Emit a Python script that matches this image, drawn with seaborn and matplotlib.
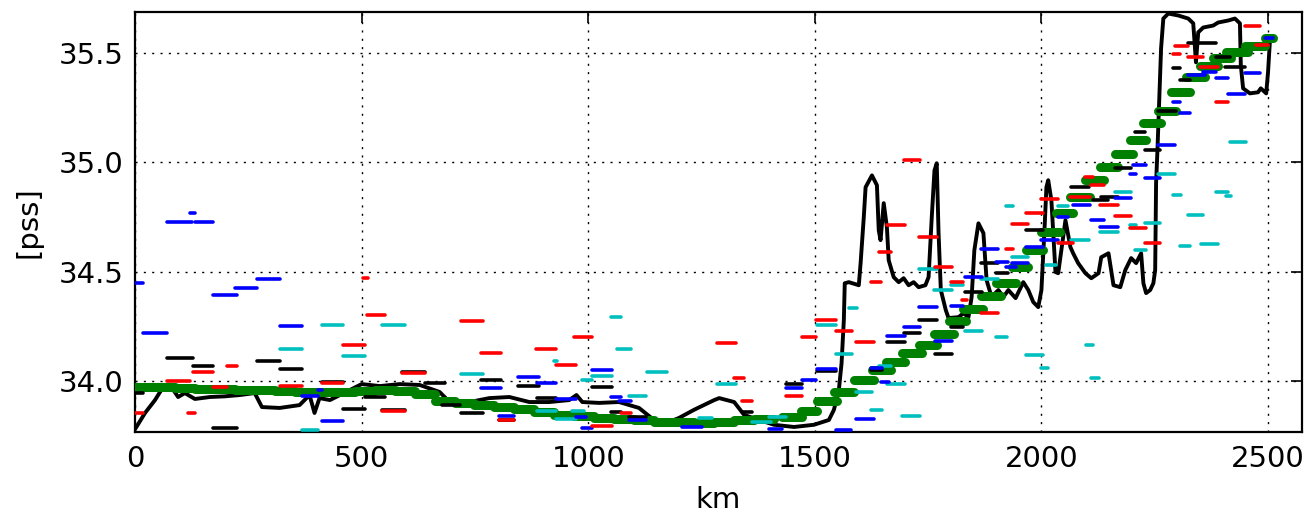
import matplotlib
matplotlib.use("Agg")
import matplotlib.pyplot as plt
import pandas as pd
import seaborn as sns

# ---------------- data ----------------
# continuous black profile
prof_km = [0, 22, 44, 62, 77, 95, 110, 132, 165, 198,
           231, 264, 280, 319, 363, 385, 396, 407, 430, 452,
           474, 500, 540, 584, 628, 672, 694, 738, 782, 826,
           870, 914, 958, 974, 987, 1024, 1068, 1112, 1145, 1178,
           1200, 1233, 1278, 1289, 1322, 1344, 1377, 1410, 1454, 1498,
           1531, 1542, 1553, 1559, 1564, 1566, 1575, 1597, 1601, 1608,
           1612, 1626, 1637, 1641, 1645, 1652, 1659, 1663, 1674, 1685,
           1696, 1707, 1718, 1729, 1744, 1751, 1758, 1764, 1769, 1773,
           1778, 1789, 1795, 1817, 1828, 1839, 1846, 1852, 1861, 1872,
           1879, 1890, 1905, 1916, 1927, 1943, 1960, 1971, 1982, 1993,
           2000, 2007, 2011, 2015, 2022, 2031, 2037, 2053, 2064, 2070,
           2081, 2097, 2110, 2126, 2132, 2148, 2159, 2174, 2185, 2198,
           2209, 2220, 2225, 2231, 2240, 2247, 2251, 2253, 2256, 2264,
           2269, 2280, 2302, 2324, 2335, 2339, 2341, 2346, 2357, 2379,
           2390, 2412, 2427, 2438, 2440, 2445, 2460, 2478, 2484, 2496,
           2500, 2504, 2507]
prof_pss = [33.78, 33.854, 33.913, 33.973, 33.982, 33.927, 33.945, 33.918, 33.927, 33.93,
            33.936, 33.945, 33.881, 33.877, 33.89, 33.936, 33.854, 33.922, 33.913, 33.936,
            33.959, 33.986, 33.977, 33.986, 33.982, 33.95, 33.904, 33.904, 33.922, 33.927,
            33.904, 33.904, 33.913, 33.936, 33.904, 33.90, 33.904, 33.877, 33.822, 33.813,
            33.831, 33.868, 33.913, 33.922, 33.904, 33.845, 33.822, 33.80, 33.79, 33.80,
            33.822, 33.868, 33.959, 34.082, 34.279, 34.447, 34.452, 34.438, 34.539, 34.749,
            34.886, 34.94, 34.895, 34.689, 34.644, 34.813, 34.703, 34.552, 34.475, 34.452,
            34.47, 34.438, 34.452, 34.429, 34.438, 34.475, 34.749, 34.963, 34.995, 34.676,
            34.416, 34.324, 34.288, 34.292, 34.31, 34.292, 34.384, 34.598, 34.721, 34.676,
            34.461, 34.384, 34.416, 34.384, 34.416, 34.379, 34.452, 34.416, 34.361, 34.338,
            34.416, 34.703, 34.886, 34.918, 34.826, 34.498, 34.493, 34.735, 34.612, 34.584,
            34.539, 34.493, 34.47, 34.493, 34.566, 34.584, 34.438, 34.429, 34.507, 34.562,
            34.539, 34.584, 34.447, 34.402, 34.416, 34.447, 34.507, 34.904, 35.055, 35.52,
            35.657, 35.68, 35.671, 35.657, 35.635, 35.52, 35.457, 35.594, 35.616, 35.625,
            35.639, 35.648, 35.657, 35.635, 35.443, 35.338, 35.315, 35.32, 35.338, 35.315,
            35.411, 35.548, 35.57]

# green step segments
green_km0 = [0, 44, 88, 132, 176, 220, 264, 308, 352, 396, 441, 485, 529, 573, 617, 661,
             705, 749, 793, 837, 881, 925, 969, 1013, 1057, 1101, 1145, 1189, 1233, 1278,
             1322, 1366, 1427, 1469, 1504, 1542, 1586, 1626, 1656, 1692, 1729, 1762, 1795,
             1828, 1866, 1899, 1934, 1967, 2000, 2033, 2064, 2097, 2130, 2163, 2196, 2225,
             2258, 2286, 2319, 2350, 2379, 2407, 2449, 2493]
green_km1 = [44, 88, 132, 176, 220, 264, 308, 352, 396, 441, 485, 529, 573, 617, 661, 705,
             749, 793, 837, 881, 925, 969, 1013, 1057, 1101, 1145, 1189, 1233, 1278, 1322,
             1366, 1410, 1471, 1504, 1548, 1586, 1630, 1667, 1700, 1736, 1769, 1806, 1833,
             1872, 1910, 1943, 1971, 2004, 2042, 2070, 2108, 2137, 2170, 2203, 2231, 2264,
             2297, 2328, 2361, 2390, 2418, 2456, 2493, 2511]
green_pss = [33.975, 33.975, 33.97, 33.965, 33.963, 33.96, 33.957, 33.955, 33.952, 33.95,
             33.95, 33.955, 33.96, 33.955, 33.94, 33.91, 33.90, 33.89, 33.88, 33.87,
             33.86, 33.845, 33.84, 33.83, 33.826, 33.82, 33.815, 33.812, 33.81, 33.815,
             33.82, 33.825, 33.835, 33.863, 33.909, 33.95, 34.005, 34.05, 34.087, 34.128,
             34.164, 34.215, 34.274, 34.329, 34.388, 34.447, 34.52, 34.598, 34.68, 34.767,
             34.84, 34.918, 34.977, 35.036, 35.10, 35.178, 35.233, 35.32, 35.388, 35.438,
             35.475, 35.505, 35.53, 35.566]

red_km0 = [0, 70, 117, 128, 172, 203, 319, 412, 458, 502, 511, 546, 590, 720, 764, 804,
           885, 929, 969, 1009, 1073, 1284, 1322, 1339, 1436, 1471, 1502, 1546, 1590, 1623,
           1641, 1659, 1696, 1729, 1766, 1800, 1824, 1866, 1921, 1934, 1967, 2000, 2037, 2064,
           2097, 2110, 2130, 2163, 2196, 2229, 2291, 2295, 2324, 2350, 2385, 2449, 2473]
red_km1 = [18, 121, 132, 172, 203, 225, 368, 458, 507, 513, 551, 595, 639, 767, 808, 837,
           929, 974, 1009, 1053, 1095, 1326, 1344, 1361, 1471, 1502, 1546, 1581, 1630, 1645,
           1667, 1700, 1733, 1769, 1802, 1828, 1835, 1905, 1938, 1971, 2004, 2037, 2070, 2108,
           2114, 2137, 2170, 2198, 2231, 2262, 2306, 2324, 2357, 2390, 2412, 2482, 2500]
red_pss = [33.854, 34.0, 33.854, 34.041, 33.973, 34.068, 33.977, 33.991, 34.164, 34.47,
           34.301, 33.863, 34.035, 34.274, 34.128, 33.822, 34.146, 34.073, 34.201, 33.795,
           33.856, 34.174, 34.014, 33.909, 33.932, 34.201, 34.279, 34.228, 34.178, 34.452,
           34.589, 34.712, 35.009, 34.657, 34.521, 34.452, 34.37, 34.31, 34.603, 34.717,
           34.767, 34.831, 34.63, 34.84, 34.931, 34.895, 34.804, 34.753, 34.699, 34.63,
           35.493, 35.53, 35.479, 35.434, 35.274, 35.621, 35.534]

blue_km0 = [0, 18, 70, 121, 132, 172, 220, 269, 319, 368, 403, 412, 764, 804, 844, 888,
            929, 974, 987, 1009, 1051, 1068, 1090, 1207, 1399, 1436, 1471, 1504, 1546, 1590,
            1623, 1645, 1659, 1696, 1729, 1766, 1800, 1832, 1866, 1899, 1921, 1934, 1967, 2000,
            2037, 2070, 2110, 2130, 2163, 2196, 2203, 2229, 2258, 2291, 2306, 2324, 2357, 2385,
            2412, 2449, 2493]
blue_km1 = [18, 70, 125, 132, 172, 225, 269, 319, 368, 403, 412, 458, 808, 837, 892, 929,
            974, 996, 1009, 1053, 1073, 1095, 1128, 1251, 1427, 1471, 1502, 1546, 1579, 1630,
            1648, 1663, 1700, 1733, 1769, 1802, 1828, 1868, 1905, 1927, 1943, 1971, 2004, 2037,
            2059, 2108, 2137, 2170, 2198, 2209, 2231, 2262, 2295, 2306, 2328, 2361, 2385, 2412,
            2449, 2482, 2511]
blue_pss = [34.447, 34.22, 34.726, 34.77, 34.726, 34.395, 34.425, 34.466, 34.251, 33.932,
            33.959, 33.817, 33.968, 33.84, 34.018, 33.991, 33.918, 33.836, 33.785, 34.05,
            33.927, 33.909, 33.822, 33.79, 33.781, 33.968, 34.005, 34.055, 33.776, 33.826,
            34.059, 33.995, 34.205, 34.247, 34.338, 34.183, 34.342, 34.475, 34.603, 34.543,
            34.521, 34.539, 34.612, 34.644, 34.749, 34.804, 34.735, 34.703, 34.836, 34.945,
            34.986, 34.927, 35.078, 35.274, 35.224, 35.397, 35.411, 35.383, 35.31, 35.406,
            35.566]

cyan_km0 = [319, 368, 412, 458, 546, 720, 888, 925, 929, 965, 987, 1009, 1051, 1064, 1090,
            1130, 1244, 1284, 1361, 1399, 1504, 1546, 1575, 1590, 1623, 1641, 1659, 1692, 1729,
            1762, 1800, 1832, 1866, 1899, 1921, 1934, 1967, 2000, 2011, 2037, 2066, 2099, 2110,
            2130, 2163, 2196, 2207, 2229, 2258, 2291, 2306, 2324, 2352, 2385, 2407, 2416]
cyan_km1 = [368, 403, 458, 507, 595, 767, 929, 932, 974, 991, 1009, 1053, 1073, 1095, 1128,
            1174, 1273, 1326, 1403, 1436, 1546, 1581, 1592, 1626, 1648, 1667, 1700, 1733, 1769,
            1802, 1828, 1868, 1905, 1923, 1938, 1971, 2004, 2015, 2033, 2059, 2104, 2114, 2126,
            2170, 2198, 2209, 2231, 2262, 2295, 2308, 2328, 2357, 2390, 2412, 2418, 2451]
cyan_pss = [34.146, 33.776, 34.256, 34.114, 34.256, 34.032, 33.863, 34.091, 33.826, 33.863,
            34.005, 34.023, 34.292, 34.146, 33.932, 34.041, 33.831, 33.986, 33.813, 33.836,
            34.256, 34.123, 34.333, 33.95, 33.868, 34.068, 33.986, 33.84, 34.511, 34.416,
            34.438, 34.228, 34.466, 34.201, 34.799, 34.566, 34.119, 34.059, 34.53, 34.799,
            34.644, 34.164, 34.014, 34.68, 34.863, 34.712, 34.598, 34.721, 34.945, 34.849,
            34.616, 34.758, 34.626, 34.863, 34.845, 35.091]

black_km0 = [0, 70, 128, 172, 269, 319, 412, 458, 507, 546, 590, 639, 678, 720, 764, 804,
             844, 888, 1009, 1051, 1090, 1339, 1436, 1504, 1623, 1659, 1696, 1729, 1766, 1800,
             1832, 1866, 1899, 1967, 2066, 2114, 2132, 2163, 2207, 2229, 2258, 2291, 2306, 2324,
             2385, 2405]
black_km1 = [18, 128, 172, 225, 319, 368, 458, 507, 551, 595, 639, 683, 716, 767, 808, 837,
             892, 929, 1053, 1073, 1128, 1361, 1471, 1546, 1648, 1700, 1733, 1769, 1802, 1828,
             1868, 1905, 1927, 2004, 2104, 2148, 2170, 2198, 2229, 2262, 2297, 2306, 2328, 2385,
             2416, 2449]
black_pss = [33.945, 34.105, 34.068, 33.785, 34.091, 34.055, 33.995, 33.872, 33.927, 33.868,
             34.041, 33.991, 33.89, 33.854, 34.005, 33.822, 33.977, 33.922, 33.973, 33.858,
             33.836, 33.858, 33.986, 34.045, 34.05, 34.178, 34.219, 34.279, 34.123, 34.247,
             34.406, 34.539, 34.493, 34.689, 34.886, 34.826, 34.84, 34.973, 35.137, 35.055,
             35.233, 35.429, 35.374, 35.543, 35.479, 35.434]

x_ticks = [0, 500, 1000, 1500, 2000, 2500]
y_ticks = [34.0, 34.5, 35.0, 35.5]


def segments(km0, km1, vals, name):
    rows = []
    for i, (a, b, v) in enumerate(zip(km0, km1, vals)):
        rows.append((name, i, a, v))
        rows.append((name, i, b, v))
    return pd.DataFrame(rows, columns=["series", "seg", "km", "pss"])


# ---------------- style ----------------
FS = 21
sns.set_theme(style="white")
plt.rcParams.update({
    "font.family": ["DejaVu Sans"],
    "font.size": FS,
    "text.color": "black",
    "axes.labelcolor": "black",
    "axes.edgecolor": "black",
    "axes.linewidth": 1.6,
    "xtick.direction": "in",
    "ytick.direction": "in",
    "xtick.top": True,
    "ytick.right": True,
    "xtick.major.size": 8,
    "ytick.major.size": 8,
    "xtick.major.width": 1.2,
    "ytick.major.width": 1.2,
    "xtick.color": "black",
    "ytick.color": "black",
    "xtick.labelsize": FS,
    "ytick.labelsize": FS,
})

fig = plt.figure(figsize=(13.1, 5.17), dpi=100)
ax = fig.add_axes([0.1031, 0.1644, 0.8908, 0.8124])

# black profile
prof = pd.DataFrame({"km": prof_km, "pss": prof_pss})
sns.lineplot(data=prof, x="km", y="pss", color="black", lw=2.8, sort=False,
             estimator=None, ax=ax, zorder=3)

# green steps
sns.lineplot(data=segments(green_km0, green_km1, green_pss, "g"), x="km", y="pss",
             units="seg", estimator=None, color="#008000", lw=6.5,
             solid_capstyle="round", ax=ax, zorder=4)

for km0, km1, vals, col in [
    (black_km0, black_km1, black_pss, "black"),
    (cyan_km0, cyan_km1, cyan_pss, "#00bfbf"),
    (blue_km0, blue_km1, blue_pss, "#0000ff"),
    (red_km0, red_km1, red_pss, "#ff0000"),
]:
    sns.lineplot(data=segments(km0, km1, vals, col), x="km", y="pss",
                 units="seg", estimator=None, color=col, lw=2.6,
                 solid_capstyle="round", ax=ax, zorder=5)

ax.set_xlim(0, 2575)
ax.set_ylim(33.767, 35.687)
ax.set_xticks(x_ticks)
ax.set_yticks(y_ticks)
ax.set_xticklabels([str(t) for t in x_ticks])
ax.set_yticklabels([f"{t:.1f}" for t in y_ticks])
ax.tick_params(axis="x", pad=9)
ax.tick_params(axis="y", pad=8)
ax.grid(True, color="black", linestyle=(0, (1.5, 4.5)), linewidth=1.0)
ax.set_axisbelow(True)
ax.set_xlabel("km", fontsize=FS, color="black", labelpad=10)
ax.set_ylabel("[pss]", fontsize=FS, color="black", labelpad=12)
for s in ax.spines.values():
    s.set_visible(True)
    s.set_color("black")

fig.savefig("out.png", dpi=100)
